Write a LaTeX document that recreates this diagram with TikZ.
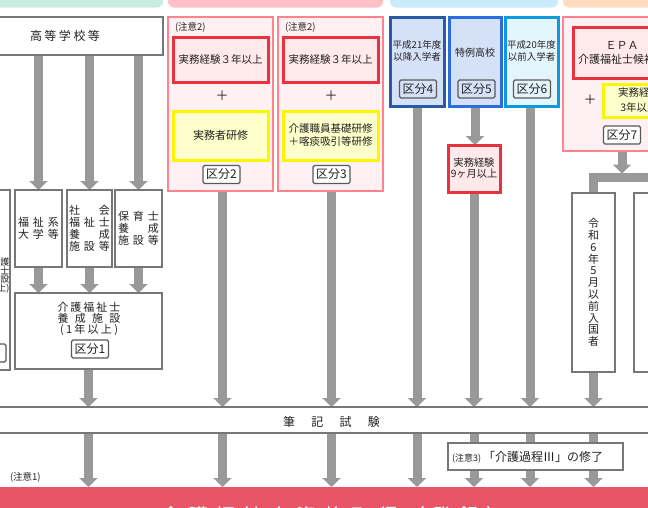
\documentclass[tikz,border=0pt]{standalone}
\usepackage{fontspec}
\setmainfont{Noto Sans CJK JP}
\usetikzlibrary{arrows.meta,calc,backgrounds}
\definecolor{bandgreen}{HTML}{C8ECDF}
\definecolor{bandpink}{HTML}{FFBFC6}
\definecolor{bandblue}{HTML}{C8ECFC}
\definecolor{bandpeach}{HTML}{FFDCC0}
\definecolor{pinkline}{HTML}{FF838C}
\definecolor{pinkfill}{HTML}{FFF1F3}
\definecolor{redline}{HTML}{E8333E}
\definecolor{redfill}{HTML}{FFE9EB}
\definecolor{yelline}{HTML}{FAF500}
\definecolor{yelfill}{HTML}{FFFFCC}
\definecolor{blueAline}{HTML}{2A5AA5}
\definecolor{blueBline}{HTML}{2D6CDB}
\definecolor{blueCline}{HTML}{0F98DA}
\definecolor{blueAfill}{HTML}{D5E1F6}
\definecolor{blueCfill}{HTML}{E5F5FD}
\definecolor{boxgray}{HTML}{777777}
\definecolor{arrgray}{HTML}{999999}
\definecolor{bandred}{HTML}{E85566}
\definecolor{txtc}{HTML}{222222}
\newcommand\fsz[2]{\fontsize{#1pt}{#2pt}\selectfont}
\newcommand\trio[3]{\makebox[15pt]{#1}\makebox[15pt]{#2}\makebox[15pt]{#3}}
\begin{document}
\begin{tikzpicture}[x=1pt,y=-1pt,
 every node/.style={text=txtc, inner sep=0pt, outer sep=0pt, align=center, font=\fsz{11}{12}},
 bx/.style 2 args={anchor=north west, minimum width=#1pt, minimum height=#2pt},
 graybox/.style={draw=boxgray, line width=2pt, fill=white},
 pinkcol/.style={draw=pinkline, line width=2.5pt, fill=pinkfill},
 redbox/.style={draw=redline, line width=3pt, fill=redfill},
 yelbox/.style={draw=yelline, line width=3pt, fill=yelfill},
 bluebox/.style={draw=#1, line width=3pt},
 kubun/.style={draw=black!65, line width=1.2pt, rounded corners=1.5pt, minimum width=37pt, minimum height=18pt, font=\fsz{12}{14}},
 garrow/.style={draw=arrgray, line width=9pt, -{Triangle[width=18pt,length=9pt]}},
 gline/.style={draw=arrgray, line width=9pt},
 plus/.style={font=\fsz{13}{14}},
 note/.style={font=\fsz{9.5}{11}}
]
\useasboundingbox (0,0) rectangle (648,507);
\clip (0,0) rectangle (648,507);

% ---------- boxes ----------
\node[graybox, bx={196}{38}, font=\fsz{12}{14}] (hs) at (-33,17) {高\hspace{2.5pt}等\hspace{2.5pt}学\hspace{2.5pt}校\hspace{2.5pt}等};

\node[graybox, bx={47}{77}, font=\fsz{11}{11.8}] (f1) at (15,190) {\trio{福}{祉}{系}\\\trio{大}{学}{等}};
\node[graybox, bx={45}{77}, font=\fsz{11}{11.8}] (f2) at (67,190) {\trio{社}{}{会}\\\trio{福}{祉}{士}\\\trio{養}{}{成}\\\trio{施}{設}{等}};
\node[graybox, bx={47}{77}, font=\fsz{11}{11.8}] (f3) at (115,190) {\trio{保}{育}{士}\\\trio{養}{}{成}\\\trio{施}{設}{等}};

\node[graybox, bx={147}{76}] (kb1) at (15,293) {};
\node[font=\fsz{11}{11}] (kb1t) at (89,318.5) {\makebox[63pt][s]{介\hfill 護\hfill 福\hfill 祉\hfill 士}\\\makebox[63pt][s]{養\hfill 成\hfill 施\hfill 設}\\\makebox[58pt][s]{(\hfill 1\hfill 年\hfill 以\hfill 上\hfill )}};
\node[kubun, fill=white] (l1) at (90,349) {区分1};

\node[graybox, bx={80}{180}] (kb0) at (-70,190) {};
\node[anchor=east, align=right, font=\fsz{9}{8.6}] (kb0t) at (9.5,275.5) {介護\\福祉士\\養成施設\\(2年以上)};
\node[kubun, fill=white, anchor=east] (l0) at (6,353) {};

% pink columns
\node[pinkcol, bx={105}{174}] (c2) at (168,17) {};
\node[note, anchor=west] (c2n) at (175,27) {(注意2)};
\node[redbox, bx={95}{45}, font=\fsz{10.5}{12}] (r2) at (173,37) {実務経験３年以上};
\node[plus] (p2) at (222,96) {＋};
\node[yelbox, bx={95}{49}] (y2) at (173,111) {実務者研修};
\node[kubun, fill=white] (l2) at (221.5,174.5) {区分2};

\node[pinkcol, bx={105}{174}] (c3) at (278,17) {};
\node[note, anchor=west] (c3n) at (285,27) {(注意2)};
\node[redbox, bx={95}{45}, font=\fsz{10.5}{12}] (r3) at (283,37) {実務経験３年以上};
\node[plus] (p3) at (331,96) {＋};
\node[yelbox, bx={95}{49}, font=\fsz{10.5}{13}] (y3) at (283,111) {介護職員基礎研修\\＋喀痰吸引等研修};
\node[kubun, fill=white] (l3) at (331.5,174.5) {区分3};

% blue columns
\node[bluebox=blueAline, fill=blueAfill, bx={54}{89}] (b4) at (390,17) {};
\node[font=\fsz{9.5}{12}] (b4t) at (417,51) {平成21年度\\以降入学者};
\node[kubun] (l4) at (418,89) {区分4};
\node[bluebox=blueBline, fill=blueAfill, bx={52}{89}] (b5) at (449,17) {};
\node[font=\fsz{10}{12}] (b5t) at (475,53) {特例高校};
\node[kubun] (l5) at (476.5,89) {区分5};
\node[bluebox=blueCline, fill=blueCfill, bx={53}{89}] (b6) at (505,17) {};
\node[font=\fsz{9.5}{12}] (b6t) at (531.5,51) {平成20年度\\以前入学者};
\node[kubun] (l6) at (532,89) {区分6};

\node[redbox, bx={52}{47}, font=\fsz{10.2}{11}] (r5) at (448,145) {実務経験\\9ヶ月以上};

% EPA column
\node[pinkcol, bx={118}{134}] (c7) at (563,17) {};
\node[redbox, bx={98}{51}, font=\fsz{11}{14}] (r7) at (573,27) {ＥＰＡ\\介護福祉士候補者};
\node[plus] (p7) at (590,100) {＋};
\node[yelbox, bx={72}{33}, font=\fsz{10.5}{15}] (y7) at (603,84) {実務経験\\3年以上};
\node[kubun, fill=white] (l7) at (622,135) {区分7};

\node[graybox, bx={43}{179}, font=\fsz{11}{11.8}] (k7a) at (572,193) {令\\和\\6\\年\\5\\月\\以\\前\\入\\国\\者};
\node[graybox, bx={43}{179}] (k7b) at (634,193) {};
\coordinate (barT) at (622,173.5);
\coordinate (barL) at (593.5,177.5);
\coordinate (barR) at (720,177.5);

% exam
\node[bx={660}{26}] (exam) at (-6,407) {};
\draw[boxgray, line width=2pt] (exam.north west) -- (exam.north east) (exam.south west) -- (exam.south east);
\node[font=\fsz{12}{14}] (examt) at (331.5,422) {\makebox[97pt][s]{筆\hfill 記\hfill 試\hfill 験}};

% bottom band
\node[fill=bandred, bx={660}{60}] (band) at (-6,487) {};
\node[anchor=base, text=white, font=\fsz{20}{24}] (bandt) at (334,523.5) {\makebox[345pt][s]{介\hfill 護\hfill 福\hfill 祉\hfill 士\hfill 資\hfill 格\hfill 取\hfill 得\hfill （\hfill 登\hfill 録\hfill ）}};

% notes
\node[draw=boxgray, line width=1.5pt, fill=white, bx={175}{27}] (n3) at (448,443) {};
\node[anchor=west] (n3t) at (452,457) {{\fsz{9}{10}(注意3)}\hspace{2pt}{\fsz{12}{14}「介護過程Ⅲ」の修了}};
\node[note, anchor=west] (note1) at (10,477) {(注意1)};

\coordinate (a2) at ([xshift=2pt]c2.south);
\coordinate (a3) at ([xshift=1pt]c3.south);
\coordinate (a6) at ([xshift=-1.5pt]b6.south);

% ---------- background: bands and arrows ----------
\begin{scope}[on background layer]
\fill[bandgreen, rounded corners=6pt] (-20,-20) rectangle (163,7.5);
\fill[bandpink, rounded corners=6pt] (168,-20) rectangle (383,7.5);
\fill[bandblue, rounded corners=6pt] (390,-20) rectangle (558,7.5);
\fill[bandpeach, rounded corners=6pt] (563,-20) rectangle (720,7.5);

\draw[garrow] (hs.south -| f1.north) -- (f1.north);
\draw[garrow] (hs.south -| f2.north) -- (f2.north);
\draw[garrow] (hs.south -| f3.north) -- (f3.north);
\draw[garrow] (f1.south) -- (f1.south |- kb1.north);
\draw[garrow] (f2.south) -- (f2.south |- kb1.north);
\draw[garrow] (f3.south) -- (f3.south |- kb1.north);
\draw[garrow] (kb1.south) -- (kb1.south |- exam.north);
\draw[garrow] (a2) -- (a2 |- exam.north);
\draw[garrow] (a3) -- (a3 |- exam.north);
\draw[garrow] (b4.south) -- (b4.south |- exam.north);
\draw[garrow] (b5.south) -- (b5.south |- r5.north);
\draw[garrow] (r5.south) -- (r5.south |- exam.north);
\draw[garrow] (a6) -- (a6 |- exam.north);
\draw[garrow] (c7.south -| l7) -- (barT);
\draw[gline] (k7a.north) -- (barL) -- (barR);
\draw[garrow] (k7a.south) -- (k7a.south |- exam.north);
\foreach \p in {kb1,a2,a3,b4,r5,a6,k7a}{
  \draw[garrow] (exam.south -| \p) -- (band.north -| \p);
}
\end{scope}
\end{tikzpicture}
\end{document}
